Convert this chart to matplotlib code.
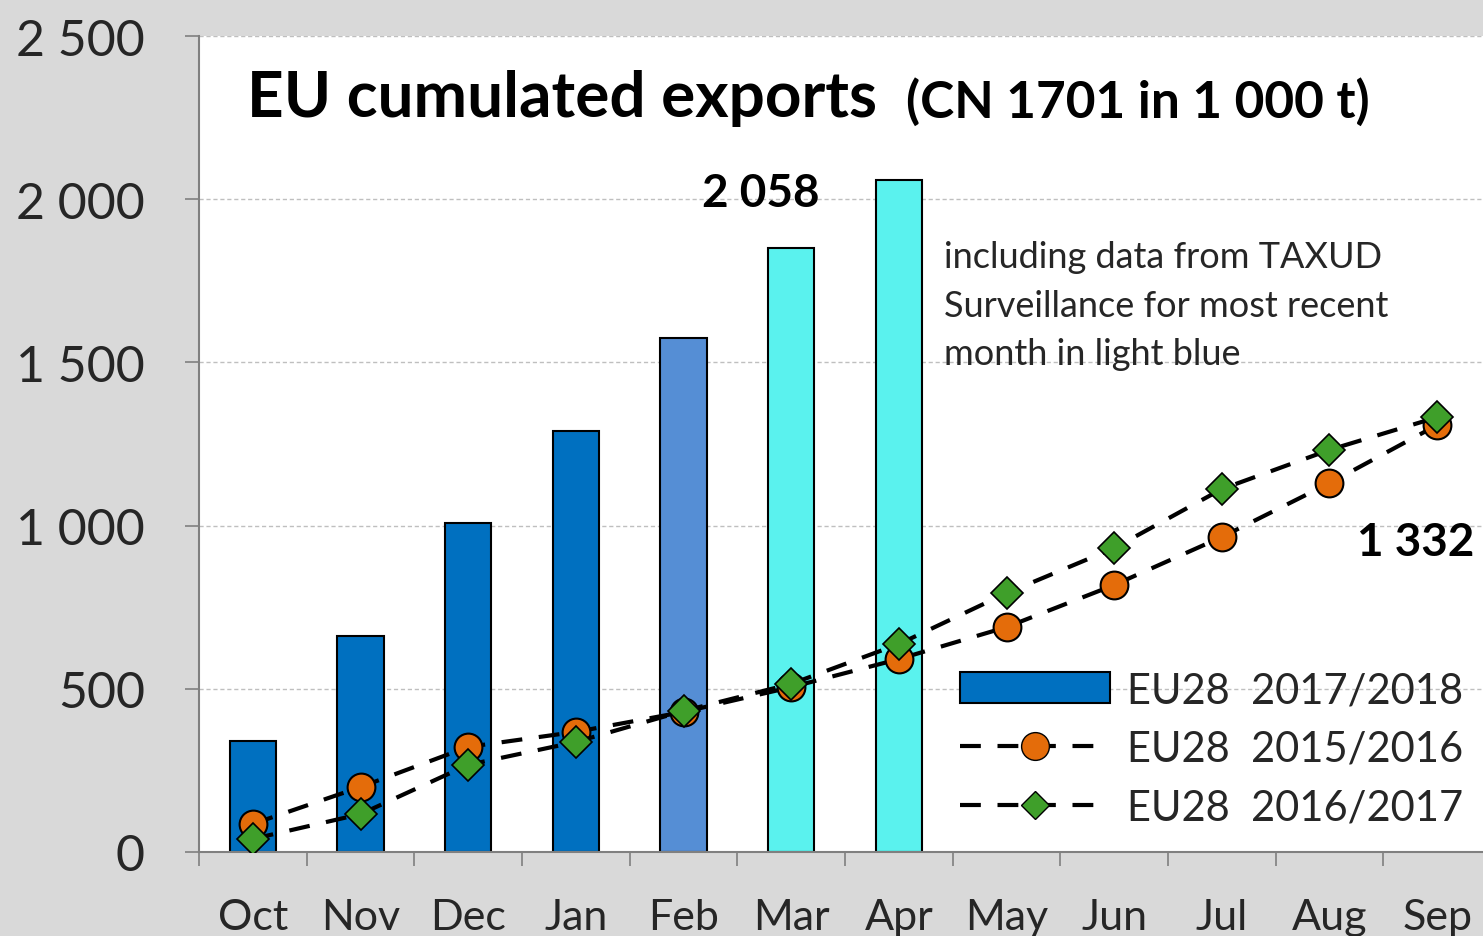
import matplotlib

matplotlib.use("Agg")
import matplotlib.pyplot as plt
from matplotlib.lines import Line2D
from matplotlib.patches import Patch

months = ["Oct", "Nov", "Dec", "Jan", "Feb", "Mar", "Apr",
          "May", "Jun", "Jul", "Aug", "Sep"]
exports_2017_18 = [340, 662, 1008, 1290, 1575, 1850, 2058]
exports_2015_16 = [86, 199, 322, 368, 429, 505, 591, 689, 818, 965, 1130, 1308]
exports_2016_17 = [40, 116, 267, 337, 432, 515, 637, 793, 931, 1112, 1232, 1332]
bar_colors = ["#0070C0"] * 4 + ["#558ED5", "#5AF2EE", "#5AF2EE"]
y_ticks = [0, 500, 1000, 1500, 2000, 2500]
y_tick_labels = ["0", "500", "1 000", "1 500", "2 000", "2 500"]

plt.rcParams["font.family"] = ["Lato", "DejaVu Sans"]

fig = plt.figure(figsize=(14.83, 9.37), dpi=100)
fig.patch.set_facecolor("#D9D9D9")
ax = fig.add_axes([199 / 1483, 84 / 937, 1292 / 1483, 816 / 937])
ax.set_facecolor("white")

x = list(range(len(months)))
dash = (0, (5, 4))
ax.bar(x[:len(exports_2017_18)], exports_2017_18, width=0.43,
       color=bar_colors, edgecolor="black", linewidth=1.5, zorder=2)
ax.plot(x, exports_2015_16, linestyle=dash, color="black", linewidth=3,
        marker="o", markersize=20, markerfacecolor="#E46C0A",
        markeredgecolor="black", markeredgewidth=1.5, zorder=3)
ax.plot(x, exports_2016_17, linestyle=dash, color="black", linewidth=3,
        marker="D", markersize=16, markerfacecolor="#3F9F2A",
        markeredgecolor="black", markeredgewidth=1.2, zorder=4)

ax.set_xlim(-0.5, 11.5)
ax.set_ylim(0, 2500)
ax.set_yticks(y_ticks)
ax.set_yticklabels(y_tick_labels)
ax.set_xticks([i + 0.5 for i in range(-1, 12)])
ax.set_xticklabels([])
ax.set_xticks(x, minor=True)
ax.set_xticklabels(months, minor=True)
ax.tick_params(axis="x", which="major", length=10, width=1.2, color="#808080")
ax.tick_params(axis="x", which="minor", length=0, labelsize=31, pad=33,
               labelcolor="#262626")
ax.tick_params(axis="y", length=10, width=1.2, color="#808080", labelsize=36,
               pad=29, labelcolor="#262626")
ax.grid(axis="y", linestyle=(0, (3, 2)), color="#BFBFBF", linewidth=1.0, zorder=0)
for side in ("top", "right"):
    ax.spines[side].set_visible(False)
for side in ("left", "bottom"):
    ax.spines[side].set_color("#808080")
    ax.spines[side].set_linewidth(1.5)

ax.text(48 / 1292, 0.925, "EU cumulated exports", transform=ax.transAxes,
        fontsize=46, fontweight="bold", va="center", ha="left")
ax.text(707 / 1292, 0.92, "(CN 1701 in 1 000 t)", transform=ax.transAxes,
        fontsize=37, fontweight="bold", va="center", ha="left")
ax.text(4.72, 2020, "2 058", fontsize=33, fontweight="bold",
        ha="center", va="center")
ax.text(11.35, 950, "1 332", fontsize=33, fontweight="bold",
        ha="right", va="center")
ax.text(6.42, 1875, "including data from TAXUD\nSurveillance for most recent\n"
        "month in light blue", fontsize=26, color="#262626", ha="left",
        va="top", linespacing=1.58)

handles = [
    Patch(facecolor="#0070C0", edgecolor="black", linewidth=1.5),
    Line2D([], [], linestyle=dash, color="black", linewidth=3, marker="o",
           markersize=20, markerfacecolor="#E46C0A", markeredgecolor="black"),
    Line2D([], [], linestyle=dash, color="black", linewidth=3, marker="D",
           markersize=14, markerfacecolor="#3F9F2A", markeredgecolor="black"),
]
labels = ["EU28  2017/2018", "EU28  2015/2016", "EU28  2016/2017"]
ax.legend(handles, labels, loc="lower left", bbox_to_anchor=(0.56, -0.015),
          frameon=False, fontsize=30, handlelength=3.6, handleheight=0.75,
          labelspacing=0.5, handletextpad=0.4, labelcolor="#262626")

fig.savefig("out.png", dpi=100, facecolor=fig.get_facecolor())
